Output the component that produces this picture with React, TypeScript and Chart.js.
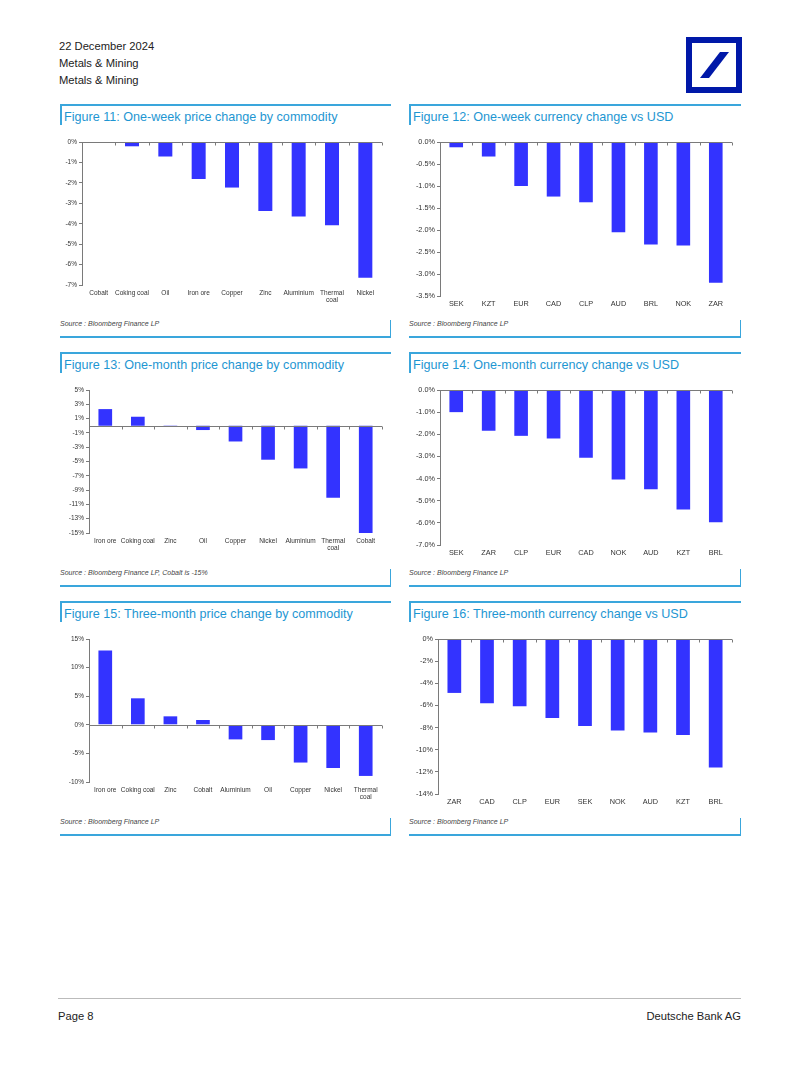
import React, { useEffect, useRef } from 'react';
import { Chart, registerables } from 'chart.js';
Chart.register(...registerables);

// ---------- DATA ----------
const fig11Labels: (string | string[])[] = ['Cobalt', 'Coking coal', 'Oil', 'Iron ore', 'Copper', 'Zinc', 'Aluminium', ['Thermal', 'coal'], 'Nickel'];
const fig11Values = [0, -0.21, -0.71, -1.81, -2.23, -3.38, -3.65, -4.07, -6.64];
const fig11Ticks = { min: -7, max: 0, step: 1, decimals: 0 };

const fig12Labels = ['SEK', 'KZT', 'EUR', 'CAD', 'CLP', 'AUD', 'BRL', 'NOK', 'ZAR'];
const fig12Values = [-0.12, -0.33, -1.0, -1.24, -1.37, -2.05, -2.33, -2.35, -3.2];
const fig12Ticks = { min: -3.5, max: 0, step: 0.5, decimals: 1 };

const fig13Labels: (string | string[])[] = ['Iron ore', 'Coking coal', 'Zinc', 'Oil', 'Copper', 'Nickel', 'Aluminium', ['Thermal', 'coal'], 'Cobalt'];
const fig13Values = [2.33, 1.26, -0.05, -0.6, -2.2, -4.75, -5.97, -10.07, -15.0];
const fig13Ticks = { min: -15, max: 5, step: 2, decimals: 0 };

const fig14Labels = ['SEK', 'ZAR', 'CLP', 'EUR', 'CAD', 'NOK', 'AUD', 'KZT', 'BRL'];
const fig14Values = [-1.0, -1.84, -2.07, -2.19, -3.06, -4.04, -4.48, -5.4, -5.97];
const fig14Ticks = { min: -7, max: 0, step: 1, decimals: 1 };

const fig15Labels: (string | string[])[] = ['Iron ore', 'Coking coal', 'Zinc', 'Cobalt', 'Aluminium', 'Oil', 'Copper', 'Nickel', ['Thermal', 'coal']];
const fig15Values = [12.98, 4.63, 1.48, 0.84, -2.55, -2.67, -6.6, -7.55, -8.94];
const fig15Ticks = { min: -10, max: 15, step: 5, decimals: 0 };

const fig16Labels = ['ZAR', 'CAD', 'CLP', 'EUR', 'SEK', 'NOK', 'AUD', 'KZT', 'BRL'];
const fig16Values = [-4.87, -5.81, -6.08, -7.14, -7.86, -8.26, -8.44, -8.68, -11.61];
const fig16Ticks = { min: -14, max: 0, step: 2, decimals: 0 };

// ---------- STYLE ----------
const FONT = '"Liberation Sans", Arial, sans-serif';
const BAR = '#3333FF';
const AXIS = '#7a7a7a';
const TICK_TEXT = '#333333';
const CYAN = '#3AA6DC';
const TITLE = '#1E96D2';

type Plot = { l: number; r: number; t: number; b: number };

function BarChart(props: {
  labels: (string | string[])[];
  values: number[];
  ticks: { min: number; max: number; step: number; decimals: number };
  fontSize: number;
  plot: Plot;
  panelLeft: number;
}) {
  const { labels, values, ticks, fontSize, plot, panelLeft } = props;
  const ref = useRef<HTMLCanvasElement>(null);
  const padTop = 8, padRight = 8, xAxisH = 28;
  const left = panelLeft;
  const top = plot.t - padTop;
  const width = plot.r - left + padRight;
  const height = plot.b - plot.t + padTop + xAxisH;

  useEffect(() => {
    const zeroPlugin = {
      id: 'zeroAxis',
      afterDatasetsDraw(chart: any) {
        const { ctx, chartArea, scales } = chart;
        const y0 = Math.round(scales.y.getPixelForValue(0)) + 0.5;
        ctx.save();
        ctx.strokeStyle = AXIS;
        ctx.lineWidth = 1;
        ctx.beginPath();
        ctx.moveTo(chartArea.left, y0);
        ctx.lineTo(chartArea.right, y0);
        const n = labels.length;
        for (let i = 1; i <= n; i++) {
          const x = i < n
            ? (scales.x.getPixelForValue(i - 1) + scales.x.getPixelForValue(i)) / 2
            : chartArea.right;
          const xr = Math.round(x) + 0.5;
          ctx.moveTo(xr, y0);
          ctx.lineTo(xr, y0 + 3);
        }
        ctx.stroke();
        ctx.restore();
      },
    };
    const chart = new Chart(ref.current as HTMLCanvasElement, {
      type: 'bar',
      data: {
        labels: labels as any,
        datasets: [{
          data: values,
          backgroundColor: BAR,
          borderWidth: 0,
          barPercentage: 0.42,
          categoryPercentage: 1,
        }],
      },
      options: {
        animation: false,
        responsive: false,
        maintainAspectRatio: false,
        layout: { padding: { top: padTop, right: padRight, left: 0, bottom: 0 } },
        plugins: { legend: { display: false }, tooltip: { enabled: false } },
        scales: {
          x: {
            grid: { display: false, drawTicks: false },
            border: { display: false },
            ticks: {
              color: TICK_TEXT,
              font: { family: FONT, size: fontSize },
              padding: 4,
              maxRotation: 0,
              autoSkip: false,
            },
            afterFit: (s: any) => { s.height = xAxisH; },
          },
          y: {
            min: ticks.min,
            max: ticks.max,
            ticks: {
              stepSize: ticks.step,
              color: TICK_TEXT,
              font: { family: FONT, size: fontSize },
              padding: 2,
              callback: (v: any) => Number(v).toFixed(ticks.decimals) + '%',
            },
            grid: { drawOnChartArea: false, tickLength: 3, color: AXIS },
            border: { color: AXIS },
            afterFit: (s: any) => { s.width = plot.l - left; },
          },
        },
      },
      plugins: [zeroPlugin],
    });
    return () => chart.destroy();
  }, []);

  return (
    <canvas
      ref={ref}
      width={width}
      height={height}
      style={{ position: 'absolute', left, top, width, height }}
    />
  );
}

function Panel(props: {
  x1: number; x2: number; top: number; bottom: number;
  title: string; source: string;
}) {
  const { x1, x2, top, bottom, title, source } = props;
  const line = 1.5;
  return (
    <>
      <div style={{ position: 'absolute', left: x1, top: top, width: x2 - x1, height: line, background: CYAN }} />
      <div style={{ position: 'absolute', left: x1, top: top, width: line, height: 21, background: CYAN }} />
      <div style={{
        position: 'absolute', left: x1 + 4, top: top + 5, height: 16, lineHeight: '16px',
        fontFamily: FONT, fontSize: 12.6, color: TITLE, whiteSpace: 'nowrap',
      }}>{title}</div>
      <div style={{
        position: 'absolute', left: x1, top: bottom - 17, height: 10, lineHeight: '10px',
        fontFamily: FONT, fontSize: 7, fontStyle: 'italic', color: '#444', whiteSpace: 'nowrap',
      }}>{source}</div>
      <div style={{ position: 'absolute', left: x1, top: bottom, width: x2 - x1, height: line, background: CYAN }} />
      <div style={{ position: 'absolute', left: x2 - line, top: bottom - 16, width: line, height: 16 + line, background: CYAN }} />
    </>
  );
}

function Logo() {
  return (
    <svg style={{ position: 'absolute', left: 686, top: 37 }} width={56} height={56} viewBox="0 0 56 56">
      <rect x={3} y={3} width={50} height={50} fill="none" stroke="#0018A8" strokeWidth={6} />
      <polygon points="34,15 43,15 23,41 14,41" fill="#0018A8" />
    </svg>
  );
}

export default function App() {
  const txt = (s: string, x: number, y: number, extra: any = {}) => (
    <div style={{
      position: 'absolute', left: x, top: y - 8, height: 16, lineHeight: '16px',
      fontFamily: FONT, fontSize: 11.2, color: '#222', whiteSpace: 'nowrap', ...extra,
    }}>{s}</div>
  );
  const L1 = 60, L2 = 391, R1 = 409, R2 = 741;
  return (
    <div style={{ position: 'absolute', left: 0, top: 0, width: 802, height: 1068, background: '#fff', overflow: 'hidden' }}>
      {txt('22 December 2024', 59, 46)}
      {txt('Metals & Mining', 59, 63)}
      {txt('Metals & Mining', 59, 80)}
      <Logo />

      <Panel x1={L1} x2={L2} top={104} bottom={336} title="Figure 11: One-week price change by commodity" source="Source : Bloomberg Finance LP" />
      <Panel x1={R1} x2={R2} top={104} bottom={336} title="Figure 12: One-week currency change vs USD" source="Source : Bloomberg Finance LP" />
      <Panel x1={L1} x2={L2} top={352} bottom={585} title="Figure 13: One-month price change by commodity" source="Source : Bloomberg Finance LP, Cobalt is -15%" />
      <Panel x1={R1} x2={R2} top={352} bottom={585} title="Figure 14: One-month currency change vs USD" source="Source : Bloomberg Finance LP" />
      <Panel x1={L1} x2={L2} top={601} bottom={834} title="Figure 15: Three-month price change by commodity" source="Source : Bloomberg Finance LP" />
      <Panel x1={R1} x2={R2} top={601} bottom={834} title="Figure 16: Three-month currency change vs USD" source="Source : Bloomberg Finance LP" />

      <BarChart labels={fig11Labels} values={fig11Values} ticks={fig11Ticks} fontSize={6.5} plot={{ l: 82, r: 382, t: 142, b: 285 }} panelLeft={L1} />
      <BarChart labels={fig12Labels} values={fig12Values} ticks={fig12Ticks} fontSize={7.3} plot={{ l: 440, r: 732, t: 142, b: 296 }} panelLeft={R1} />
      <BarChart labels={fig13Labels} values={fig13Values} ticks={fig13Ticks} fontSize={6.5} plot={{ l: 89, r: 382, t: 390, b: 533 }} panelLeft={L1} />
      <BarChart labels={fig14Labels} values={fig14Values} ticks={fig14Ticks} fontSize={7.3} plot={{ l: 440, r: 732, t: 390, b: 545 }} panelLeft={R1} />
      <BarChart labels={fig15Labels} values={fig15Values} ticks={fig15Ticks} fontSize={6.5} plot={{ l: 89, r: 382, t: 639, b: 782 }} panelLeft={L1} />
      <BarChart labels={fig16Labels} values={fig16Values} ticks={fig16Ticks} fontSize={7.3} plot={{ l: 438, r: 732, t: 639, b: 794 }} panelLeft={R1} />

      <div style={{ position: 'absolute', left: 58, top: 998, width: 683, height: 1, background: '#bbb' }} />
      {txt('Page 8', 58, 1016)}
      {txt('Deutsche Bank AG', 0, 1016, { left: 'auto', right: 802 - 741, textAlign: 'right' })}
    </div>
  );
}
